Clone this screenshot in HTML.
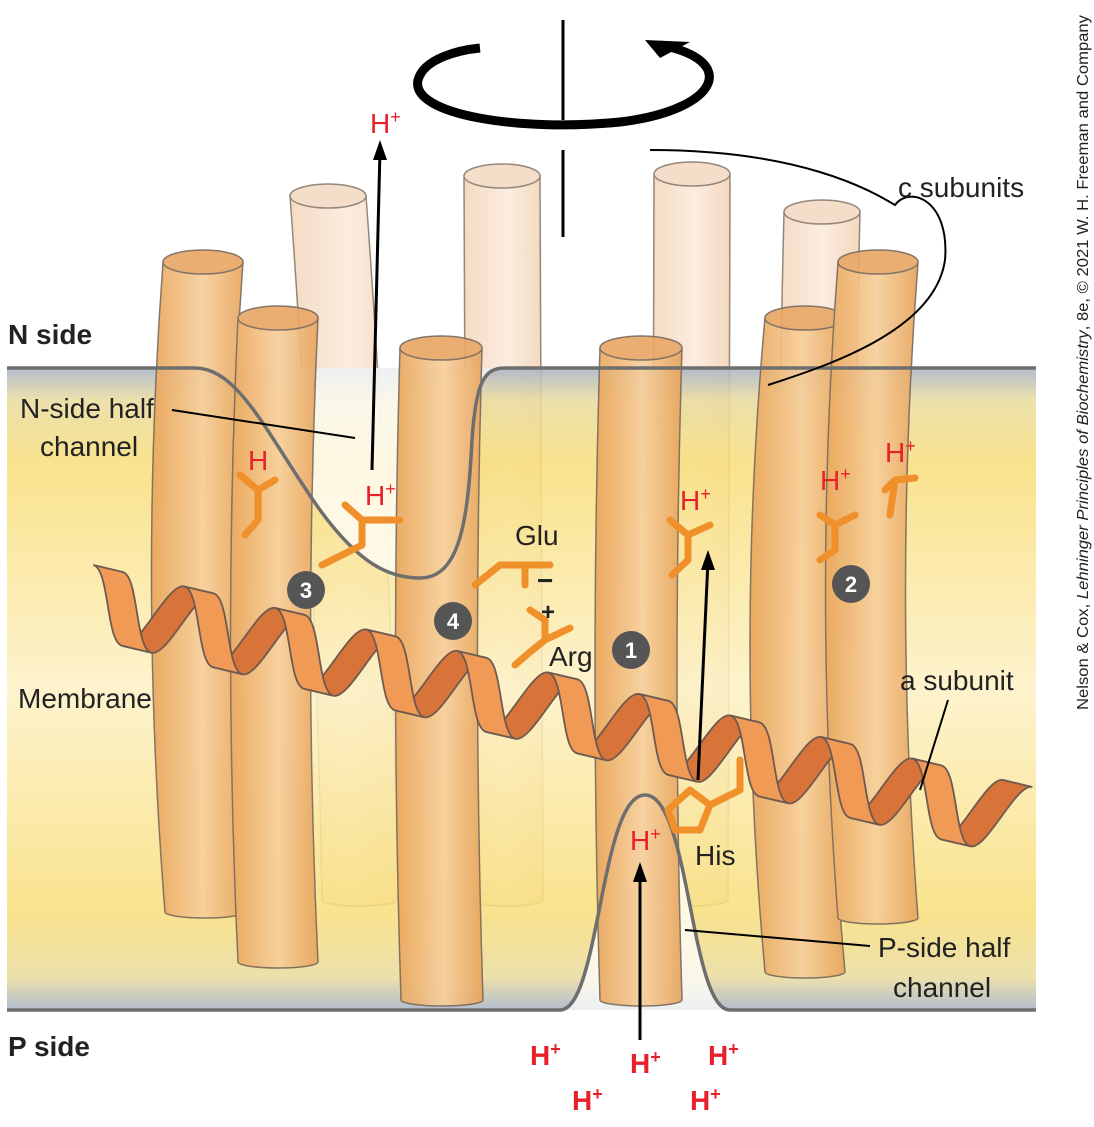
<!DOCTYPE html>
<html><head><meta charset="utf-8"><style>
html,body{margin:0;padding:0;background:#fff}
svg{display:block;font-family:"Liberation Sans",sans-serif}
</style></head><body>
<svg width="1094" height="1127" viewBox="0 0 1094 1127">
<defs>
<linearGradient id="mem" x1="0" y1="0" x2="0" y2="1">
<stop offset="0" stop-color="#a9b4c8"/><stop offset="0.05" stop-color="#e9dca0"/><stop offset="0.15" stop-color="#f8df7e"/><stop offset="0.5" stop-color="#fdf1c6"/><stop offset="0.85" stop-color="#f8df7e"/><stop offset="0.95" stop-color="#e9dca0"/><stop offset="1" stop-color="#a9b4c8"/>
</linearGradient>
<linearGradient id="cyl" x1="0" y1="0" x2="1" y2="0">
<stop offset="0" stop-color="#e9a55a"/><stop offset="0.55" stop-color="#f7cf9c"/><stop offset="1" stop-color="#e7a45c"/>
</linearGradient>
<linearGradient id="cylf" x1="0" y1="0" x2="1" y2="0">
<stop offset="0" stop-color="#f3d2b4"/><stop offset="0.55" stop-color="#fbe9da"/><stop offset="1" stop-color="#f1cfae"/>
</linearGradient>
<path id="cb" d="M46.75,36 C63.75,36 76.5,-36 93.5,-36 L123.5,-36 C106.5,-36 93.75,36 76.75,36 Z" fill="#d8733a" stroke="#6e5a50" stroke-width="1.8"/>
<path id="cf" d="M0,-36 C17,-36 29.75,36 46.75,36 L76.75,36 C59.75,36 47,-36 30,-36 Z" fill="#f09a55" stroke="#6e5a50" stroke-width="1.8"/>
</defs>
<rect width="1094" height="1127" fill="#fff"/>
<g opacity="0.8" fill="url(#cylf)" stroke="#7a6a5a" stroke-width="1.5">
<path d="M290,196 Q316,548 322,900 A38,6 0 0 0 398,900 Q392,548 366,196 Z"/><ellipse cx="328" cy="196" rx="38" ry="12" fill="#f2d6bd"/>
<path d="M464,176 Q465.5,538 467,900 A38,6 0 0 0 543,900 Q541.5,538 540,176 Z"/><ellipse cx="502" cy="176" rx="38" ry="12" fill="#f2d6bd"/>
<path d="M654,174 Q653,537 652,900 A38,6 0 0 0 728,900 Q729,537 730,174 Z"/><ellipse cx="692" cy="174" rx="38" ry="12" fill="#f2d6bd"/>
<path d="M784,212 Q775.5,556 777,900 A38,6 0 0 0 853,900 Q851.5,556 860,212 Z"/><ellipse cx="822" cy="212" rx="38" ry="12" fill="#f2d6bd"/>
</g>
<rect x="7" y="368" width="1029" height="642" fill="url(#mem)" opacity="0.88"/>
<path d="M195,368 C240,368 270,440 320,510 C360,565 390,578 420,578 C460,578 468,520 472,440 C476,380 485,368 505,368 Z" fill="#fff" opacity="0.75"/>
<path d="M560,1010 C600,1010 600,795 645,795 C690,795 690,1010 730,1010 Z" fill="#fff" opacity="0.75"/>
<g opacity="0.92" fill="url(#cyl)" stroke="#7a6a5a" stroke-width="1.5">
<path d="M163,262 Q139,587 165,912 A40,6 0 0 0 245,912 Q219,587 243,262 Z"/><ellipse cx="203" cy="262" rx="40" ry="12" fill="#e9a868"/>
<path d="M238,318 Q223,640 238,962 A40,6 0 0 0 318,962 Q303,640 318,318 Z"/><ellipse cx="278" cy="318" rx="40" ry="12" fill="#e9a868"/>
<path d="M400,348 Q390.5,674 401,1000 A41,6 0 0 0 483,1000 Q472.5,674 482,348 Z"/><ellipse cx="441" cy="348" rx="41" ry="12" fill="#e9a868"/>
<path d="M600,348 Q590,674 600,1000 A41,6 0 0 0 682,1000 Q672,674 682,348 Z"/><ellipse cx="641" cy="348" rx="41" ry="12" fill="#e9a868"/>
<path d="M765,318 Q735,645 765,972 A40,6 0 0 0 845,972 Q815,645 845,318 Z"/><ellipse cx="805" cy="318" rx="40" ry="12" fill="#e9a868"/>
<path d="M838,262 Q813,590 838,918 A40,6 0 0 0 918,918 Q893,590 918,262 Z"/><ellipse cx="878" cy="262" rx="40" ry="12" fill="#e9a868"/>
</g>
<path d="M7,368 L195,368 C240,368 270,440 320,510 C360,565 390,578 420,578 C460,578 468,520 472,440 C476,380 485,368 505,368 L1036,368" fill="none" stroke="#6e6e6e" stroke-width="3.5"/>
<path d="M7,1010 L560,1010 C600,1010 600,795 645,795 C690,795 690,1010 730,1010 L1036,1010" fill="none" stroke="#6e6e6e" stroke-width="3.5"/>
<g transform="translate(85,600) rotate(13.3)">
<use href="#cb" x="0"/><use href="#cb" x="93.5"/><use href="#cb" x="187"/><use href="#cb" x="280.5"/><use href="#cb" x="374"/><use href="#cb" x="467.5"/><use href="#cb" x="561"/><use href="#cb" x="654.5"/><use href="#cb" x="748"/><use href="#cb" x="841.5"/>
<use href="#cf" x="0"/><use href="#cf" x="93.5"/><use href="#cf" x="187"/><use href="#cf" x="280.5"/><use href="#cf" x="374"/><use href="#cf" x="467.5"/><use href="#cf" x="561"/><use href="#cf" x="654.5"/><use href="#cf" x="748"/><use href="#cf" x="841.5"/>
</g>
<g fill="none" stroke="#f0902a" stroke-width="7" stroke-linejoin="round" stroke-linecap="round">
<path d="M240,475 L258,490 L258,520 L245,535 M258,490 L275,480"/>
<path d="M345,505 L362,520 L362,545 L322,565 M362,520 L400,520"/>
<path d="M475,585 L500,565 L525,565 L525,585 M500,565 L550,565"/>
<path d="M515,665 L530,652 L545,640 L545,620 L530,610 M545,640 L570,628"/>
<path d="M670,520 L688,535 L688,560 L672,575 M688,535 L710,525"/>
<path d="M820,515 L835,525 L835,550 L820,560 M835,525 L855,515"/>
<path d="M885,490 L895,480 L915,478 M895,480 L890,515"/>
<path d="M668,810 L690,790 L710,805 L700,830 L675,830 Z M710,805 L740,790 L740,760"/>
</g>
<g stroke="#000" stroke-width="3" fill="none">
<path d="M372,470 L380,150"/><path d="M698,780 L708,560"/><path d="M640,1040 L640,875"/>
</g>
<g fill="#000"><path d="M380,140 L373,160 L387,160Z"/><path d="M708,550 L701,570 L715,570Z"/><path d="M640,862 L633,882 L647,882Z"/></g>
<g>
<line x1="563" y1="20" x2="563" y2="120" stroke="#000" stroke-width="3"/>
<line x1="563" y1="150" x2="563" y2="237" stroke="#000" stroke-width="3"/>
<path d="M660,45 C740,60 720,110 620,122 C520,132 410,115 418,80 C424,58 460,50 480,48" fill="none" stroke="#000" stroke-width="9"/>
<path d="M645,40 L690,42 L660,58Z" fill="#000"/>
</g>
<path d="M650,150 C800,150 870,190 895,205 C910,185 950,200 945,260 C935,330 830,365 768,385" fill="none" stroke="#000" stroke-width="2"/>
<g font-size="28" fill="#222">
<text x="898" y="197">c subunits</text>
<text x="8" y="344" font-weight="bold">N side</text>
<text x="8" y="1056" font-weight="bold">P side</text>
<text x="20" y="418">N-side half</text><text x="40" y="456">channel</text>
<text x="18" y="708">Membrane</text>
<text x="515" y="545">Glu</text>
<text x="549" y="666">Arg</text>
<text x="695" y="865">His</text>
<text x="900" y="690">a subunit</text>
<text x="878" y="957">P-side half</text><text x="893" y="997">channel</text>
<text x="537" y="590" font-weight="bold">−</text>
<text x="541" y="620" font-weight="bold" font-size="24">+</text>
</g>
<g stroke="#000" stroke-width="2"><line x1="172" y1="410" x2="355" y2="438"/><line x1="920" y1="790" x2="948" y2="700"/><line x1="685" y1="930" x2="870" y2="946"/></g>
<g fill="#e8202a" font-size="28">
<text x="370" y="133">H<tspan font-size="18" dy="-10">+</tspan></text>
<text x="365" y="505">H<tspan font-size="18" dy="-10">+</tspan></text>
<text x="248" y="470">H</text>
<text x="680" y="510">H<tspan font-size="18" dy="-10">+</tspan></text>
<text x="820" y="490">H<tspan font-size="18" dy="-10">+</tspan></text>
<text x="885" y="462">H<tspan font-size="18" dy="-10">+</tspan></text>
<text x="630" y="850">H<tspan font-size="18" dy="-10">+</tspan></text>
<g font-weight="bold"><text x="530" y="1065">H<tspan font-size="18" dy="-10">+</tspan></text>
<text x="630" y="1073">H<tspan font-size="18" dy="-10">+</tspan></text>
<text x="708" y="1065">H<tspan font-size="18" dy="-10">+</tspan></text>
<text x="572" y="1110">H<tspan font-size="18" dy="-10">+</tspan></text>
<text x="690" y="1110">H<tspan font-size="18" dy="-10">+</tspan></text></g>
</g>
<g font-weight="bold" font-size="22" fill="#fff" text-anchor="middle">
<circle cx="306" cy="590" r="19" fill="#555"/><text x="306" y="598">3</text>
<circle cx="453" cy="621" r="19" fill="#555"/><text x="453" y="629">4</text>
<circle cx="631" cy="650" r="19" fill="#555"/><text x="631" y="658">1</text>
<circle cx="851" cy="584" r="19" fill="#555"/><text x="851" y="592">2</text>
</g>
<text transform="translate(1088,710) rotate(-90)" font-size="16" textLength="695" lengthAdjust="spacingAndGlyphs" fill="#222">Nelson &amp; Cox, <tspan font-style="italic">Lehninger Principles of Biochemistry</tspan>, 8e, © 2021 W. H. Freeman and Company</text>
</svg>
</body></html>
